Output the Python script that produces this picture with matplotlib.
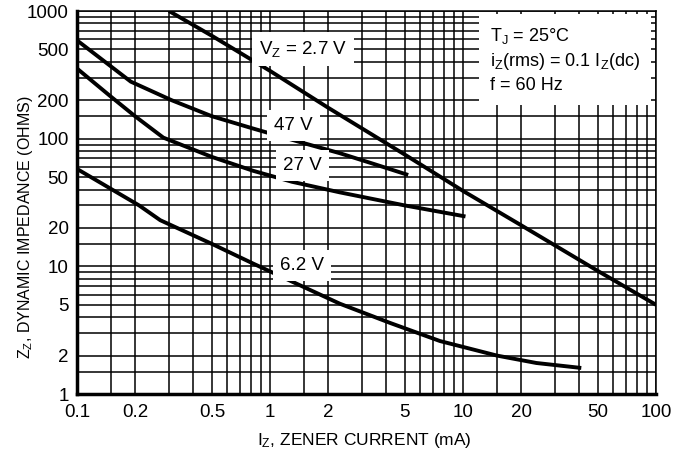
# zener dynamic impedance vs zener current, log-log

import matplotlib.pyplot as plt
from matplotlib.ticker import FixedLocator, NullFormatter

plt.rcParams['font.family'] = ['Liberation Sans Narrow', 'Liberation Sans', 'DejaVu Sans']
plt.rcParams['mathtext.fontset'] = 'custom'
plt.rcParams['mathtext.rm'] = 'Liberation Sans'

# curves: current (mA), impedance (ohms)
iz_27 = [0.3, 0.5, 1.0, 2.0, 5.0, 10, 20, 50, 100]
zz_27 = [1000, 640, 340, 175, 75, 39, 21, 9.2, 5.0]

iz_47 = [0.1, 0.19, 0.31, 0.5, 0.82, 1.4, 2.3, 3.5, 5.2]
zz_47 = [590, 280, 200, 150, 120, 95, 77, 63, 52]

iz_27v = [0.1, 0.148, 0.2, 0.28, 0.5, 0.82, 1.3, 2.3, 5.0, 10.3]
zz_27v = [355, 217, 150, 102, 72, 56, 46, 38, 30, 24.6]

iz_62 = [0.1, 0.21, 0.27, 0.5, 0.82, 1.3, 2.3, 4.2, 7.6, 15, 24, 41]
zz_62 = [58, 30, 23, 15, 10.5, 7.6, 5.1, 3.6, 2.6, 2.0, 1.75, 1.6]

x_ticks = [0.1, 0.2, 0.5, 1, 2, 5, 10, 20, 50, 100]
x_labels = ['0.1', '0.2', '0.5', '1', '2', '5', '10', '20', '50', '100']
y_ticks = [1, 2, 5, 10, 20, 50, 100, 200, 500, 1000]
y_labels = ['1', '2', '5', '10', '20', '50', '100', '200', '500', '1000']

steps = [1, 1.5, 2, 3, 4, 5, 6, 7, 8, 9]
x_grid = [s * d for d in [0.1, 1, 10] for s in steps] + [100]
y_grid = [s * d for d in [1, 10, 100] for s in steps] + [1000]

fig = plt.figure(figsize=(6.77, 4.61), dpi=100)
ax = fig.add_axes([0.1137, 0.1453, 0.8553, 0.8307])
ax.set_xscale('log')
ax.set_yscale('log')
ax.set_xlim(0.1, 100)
ax.set_ylim(1, 1000)

for g in x_grid:
    ax.axvline(g, color='black', lw=1.1, zorder=1)
for g in y_grid:
    ax.axhline(g, color='black', lw=1.1, zorder=1)

for xs, ys in [(iz_27, zz_27), (iz_47, zz_47), (iz_27v, zz_27v), (iz_62, zz_62)]:
    ax.plot(xs, ys, color='black', lw=2.8, solid_capstyle='butt', zorder=3)

ax.xaxis.set_major_locator(FixedLocator(x_ticks))
ax.set_xticklabels(x_labels)
ax.xaxis.set_minor_formatter(NullFormatter())
ax.yaxis.set_major_locator(FixedLocator(y_ticks))
ax.set_yticklabels(y_labels)
ax.yaxis.set_minor_formatter(NullFormatter())
ax.tick_params(which='both', length=0, labelsize=13.5)
ax.tick_params(axis='x', pad=7)
ax.tick_params(axis='y', pad=6)

for s in ['left', 'bottom']:
    ax.spines[s].set_linewidth(2.5)
for s in ['right', 'top']:
    ax.spines[s].set_linewidth(1.1)

box = dict(facecolor='white', edgecolor='none', pad=5)
fs = 13.5
ax.text(1.48, 505, r'$\mathregular{V_Z}$ = 2.7 V', fontsize=fs, ha='center', va='center', bbox=box, zorder=4)
ax.text(1.32, 126, '47 V', fontsize=fs, ha='center', va='center', bbox=box, zorder=4)
ax.text(1.47, 61.5, '27 V', fontsize=fs, ha='center', va='center', bbox=box, zorder=4)
ax.text(1.47, 10.2, '6.2 V', fontsize=fs, ha='center', va='center', bbox=box, zorder=4)
ax.text(13.8, 414,
        r'$\mathregular{T_J}$ = 25°C' + '\n' +
        r'$\mathregular{i_Z}$(rms) = 0.1 $\mathregular{I_Z}$(dc)' + '\n' +
        'f = 60 Hz',
        fontsize=13, ha='left', va='center', linespacing=1.35,
        bbox=dict(facecolor='white', edgecolor='none', pad=8), zorder=4)

fig.text(364 / 677, 1 - 440 / 461, r'$\mathregular{I_Z}$, ZENER CURRENT (mA)',
         fontsize=12.5, ha='center', va='center')
fig.text(26 / 677, 1 - 227 / 461, r'$\mathregular{Z_Z}$, DYNAMIC IMPEDANCE (OHMS)',
         fontsize=11.5, ha='center', va='center', rotation=90)

fig.savefig('out.png', dpi=100)
